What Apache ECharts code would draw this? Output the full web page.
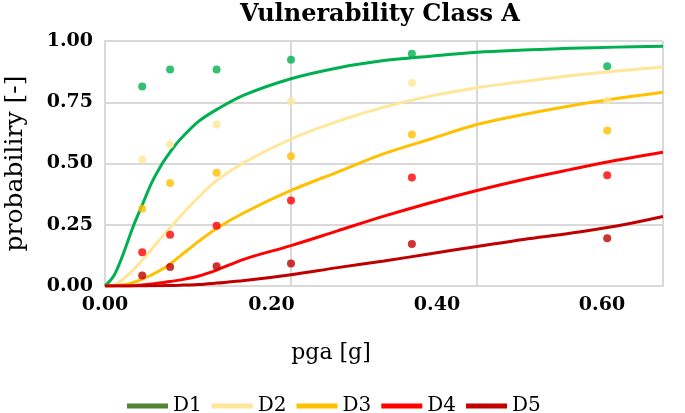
<!DOCTYPE html>
<html>
<head>
<meta charset="utf-8">
<script src="https://cdn.jsdelivr.net/npm/echarts@6/dist/echarts.min.js"></script>
<style>
html,body{margin:0;padding:0;background:#fff;}
#chart{width:685px;height:413px;}
</style>
</head>
<body>
<div id="chart"></div>
<script>
// ---- data ----
const curveX = [0, 0.01, 0.02, 0.03, 0.04, 0.05, 0.06, 0.07, 0.08, 0.1, 0.12, 0.15, 0.2, 0.25, 0.3, 0.35, 0.4, 0.45, 0.5, 0.55, 0.6];
const d1Curve = [0, 0.045, 0.135, 0.24, 0.33, 0.42, 0.49, 0.546, 0.595, 0.67, 0.72, 0.78, 0.846, 0.89, 0.92, 0.938, 0.954, 0.963, 0.97, 0.975, 0.979];
const d2Curve = [0, 0.005, 0.03, 0.065, 0.105, 0.15, 0.195, 0.238, 0.28, 0.36, 0.43, 0.505, 0.6, 0.672, 0.73, 0.775, 0.809, 0.835, 0.858, 0.878, 0.893];
const d3Curve = [0, 0.001, 0.005, 0.014, 0.028, 0.045, 0.065, 0.09, 0.12, 0.18, 0.235, 0.3, 0.39, 0.465, 0.54, 0.6, 0.659, 0.7, 0.735, 0.765, 0.791];
const d4Curve = [0, 0, 0, 0.001, 0.004, 0.008, 0.013, 0.018, 0.024, 0.04, 0.065, 0.11, 0.165, 0.225, 0.285, 0.34, 0.39, 0.435, 0.475, 0.513, 0.546];
const d5Curve = [0, 0, 0, 0, 0, 0.001, 0.001, 0.002, 0.003, 0.006, 0.012, 0.022, 0.046, 0.075, 0.102, 0.132, 0.161, 0.19, 0.215, 0.245, 0.284];

const obsX = [0.04, 0.07, 0.12, 0.2, 0.33, 0.54];
const d1Obs = [0.814, 0.884, 0.884, 0.923, 0.948, 0.897];
const d2Obs = [0.515, 0.578, 0.659, 0.753, 0.829, 0.757];
const d3Obs = [0.315, 0.42, 0.462, 0.53, 0.618, 0.635];
const d4Obs = [0.138, 0.209, 0.246, 0.349, 0.443, 0.452];
const d5Obs = [0.043, 0.078, 0.081, 0.092, 0.171, 0.195];

const seriesNames = ['D1', 'D2', 'D3', 'D4', 'D5'];
const xTickLabels = ['0.00', '0.20', '0.40', '0.60'];
const yTickLabels = ['0.00', '0.25', '0.50', '0.75', '1.00'];

// ---- styles ----
const lineColors = ['#00B050', '#FFE699', '#FFC000', '#FF0000', '#C00000'];
const legendColors = ['#548235', '#FFE699', '#FFC000', '#FF0000', '#C00000'];
const curves = [d1Curve, d2Curve, d3Curve, d4Curve, d5Curve];
const obs = [d1Obs, d2Obs, d3Obs, d4Obs, d5Obs];
const gridColor = '#D9D9D9';
const serif = 'DejaVu Serif';
// the reference's x tick labels sit left of their gridlines; shift each one
const xLabelPad = [0, 39, 80, 122];

const pair = (xs, ys) => xs.map((x, i) => [x, ys[i]]);

const series = [];
curves.forEach((c, i) => {
  series.push({
    name: seriesNames[i], type: 'line',
    data: pair(curveX, c), smooth: 0.35,
    showSymbol: false, symbol: 'none',
    lineStyle: { color: lineColors[i], width: 3 },
    itemStyle: { color: lineColors[i] },
    z: 2, animation: false
  });
});
obs.forEach((o, i) => {
  series.push({
    name: seriesNames[i] + ' obs', type: 'scatter',
    data: pair(obsX, o), symbol: 'circle', symbolSize: 8,
    itemStyle: { color: lineColors[i] },
    z: 3, animation: false
  });
});

const rich = {};
xLabelPad.forEach((p, i) => {
  rich['p' + i] = { fontFamily: serif, fontWeight: 'bold', fontSize: 19, color: '#000', padding: [0, p, 0, 0] };
});

const chart = echarts.init(document.getElementById('chart'), null, { renderer: 'canvas' });
chart.setOption({
  animation: false,
  backgroundColor: '#fff',
  title: {
    text: 'Vulnerability Class A', left: 375, textAlign: 'center', top: -2,
    textStyle: { fontFamily: serif, fontWeight: 'bold', fontSize: 24, color: '#000' }
  },
  legend: {
    left: 122, top: 391, itemWidth: 41, itemHeight: 5, itemGap: 10,
    textStyle: { fontFamily: serif, fontSize: 20, color: '#000' },
    data: seriesNames.map((n, i) => ({ name: n, icon: 'rect', itemStyle: { color: legendColors[i] } }))
  },
  grid: { left: 105, right: 22, top: 41, bottom: 127, containLabel: false, outerBoundsMode: 'none' },
  xAxis: {
    type: 'value', min: 0, max: 0.6, interval: 0.2,
    name: 'pga [g]', nameLocation: 'middle', nameGap: 56,
    nameTextStyle: { fontFamily: serif, fontSize: 22, color: '#000', padding: [0, 106, 0, 0] },
    axisLine: { show: true, lineStyle: { color: gridColor, width: 2 } },
    axisTick: { show: false, interval: 0 },
    axisLabel: {
      show: true, margin: 10, interval: 0, hideOverlap: false,
      fontFamily: serif, fontWeight: 'bold', fontSize: 19, color: '#000',
      formatter: v => {
        const k = Math.round(v / 0.2);
        return '{p' + k + '|' + xTickLabels[k] + '}';
      },
      rich: rich
    },
    splitLine: { show: true, interval: 0, showMinLine: true, showMaxLine: true, lineStyle: { color: gridColor, width: 2 } }
  },
  yAxis: {
    type: 'value', min: 0, max: 1, interval: 0.25,
    name: 'probabiliry [-]', nameLocation: 'middle', nameGap: 77, nameRotate: 90,
    nameTextStyle: { fontFamily: serif, fontSize: 25, color: '#000' },
    axisLine: { show: true, lineStyle: { color: gridColor, width: 2 } },
    axisTick: { show: false },
    axisLabel: {
      margin: 12, fontFamily: serif, fontWeight: 'bold', fontSize: 19, color: '#000',
      formatter: v => yTickLabels[Math.round(v / 0.25)]
    },
    splitLine: { show: true, showMaxLine: true, lineStyle: { color: gridColor, width: 2 } }
  },
  series: series
});
</script>
</body>
</html>
